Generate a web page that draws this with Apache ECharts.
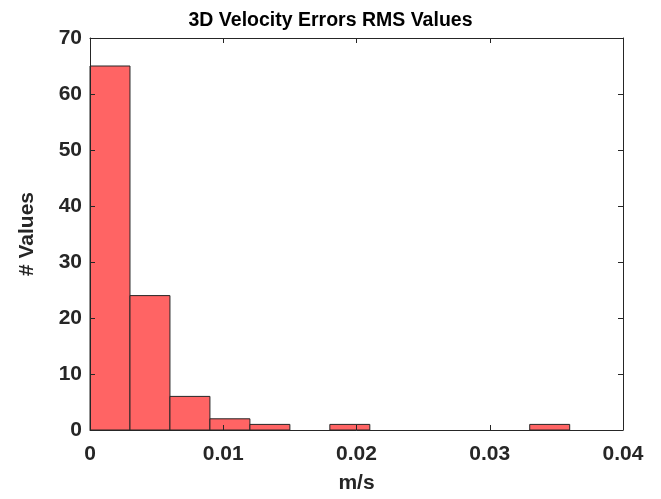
<!DOCTYPE html>
<html><head><meta charset="utf-8">
<script src="https://cdn.jsdelivr.net/npm/echarts@6/dist/echarts.min.js"></script>
<style>html,body{margin:0;padding:0;background:#fff}#c{width:661px;height:499px}</style>
</head><body><div id="c"></div>
<script>
// Histogram bins (width 0.003 m/s) and counts
const binStarts = [0, 0.003, 0.006, 0.009, 0.012, 0.015, 0.018, 0.021, 0.024, 0.027, 0.030, 0.033];
const binWidth = 0.003;
const counts = [65, 24, 6, 2, 1, 0, 1, 0, 0, 0, 0, 1];
const xTicks = [0, 0.01, 0.02, 0.03, 0.04];
const yTicks = [0, 10, 20, 30, 40, 50, 60, 70];
const title = '3D Velocity Errors RMS Values';
const xLabel = 'm/s';
const yLabel = '# Values';

const FONT = '"Liberation Sans", Arial, Helvetica, sans-serif';
const data = binStarts.map((s, i) => [s, s + binWidth, counts[i]]).filter(d => d[2] > 0);

const chart = echarts.init(document.getElementById('c'), null, {renderer: 'canvas'});
const axisLine = {show: true, onZero: false, lineStyle: {color: '#262626', width: 1}};
const tick = {show: true, inside: true, length: 5, lineStyle: {color: '#262626', width: 1}};
const lbl = {color: '#262626', fontFamily: FONT, fontWeight: 'bold', fontSize: 21};
const xMin = xTicks[0], xMax = xTicks[xTicks.length - 1], xInt = xTicks[1] - xTicks[0];
const yMin = yTicks[0], yMax = yTicks[yTicks.length - 1], yInt = yTicks[1] - yTicks[0];
chart.setOption({
  animation: false,
  title: {text: title, left: 'center', top: 6, textStyle: {fontFamily: FONT, fontWeight: 'bold', fontSize: 19.5, color: '#000'}},
  grid: {left: 90, right: 38, top: 38, bottom: 67, containLabel: false},
  xAxis: [
    {type: 'value', min: xMin, max: xMax, interval: xInt, position: 'bottom', z: 5,
     name: xLabel, nameLocation: 'middle', nameGap: 43,
     nameTextStyle: {fontFamily: FONT, fontWeight: 'bold', fontSize: 21, color: '#262626'},
     axisLine, axisTick: tick, splitLine: {show: false},
     axisLabel: Object.assign({margin: 14, formatter: v => v === 0 ? '0' : String(+v.toFixed(2))}, lbl)},
    {type: 'value', min: xMin, max: xMax, interval: xInt, position: 'top', z: 5,
     axisLine, axisTick: tick, axisLabel: {show: false}, splitLine: {show: false}}
  ],
  yAxis: [
    {type: 'value', min: yMin, max: yMax, interval: yInt, position: 'left', z: 5,
     name: yLabel, nameLocation: 'middle', nameGap: 52, nameRotate: 90,
     nameTextStyle: {fontFamily: FONT, fontWeight: 'bold', fontSize: 21, color: '#262626'},
     axisLine, axisTick: tick, splitLine: {show: false},
     axisLabel: Object.assign({margin: 8}, lbl)},
    {type: 'value', min: yMin, max: yMax, interval: yInt, position: 'right', z: 5,
     axisLine, axisTick: tick, axisLabel: {show: false}, splitLine: {show: false}}
  ],
  series: [{
    type: 'custom',
    xAxisIndex: 0, yAxisIndex: 0, z: 2,
    data: data,
    encode: {x: [0, 1], y: 2},
    renderItem: function (params, api) {
      const p0 = api.coord([api.value(0), 0]);
      const p1 = api.coord([api.value(1), api.value(2)]);
      return {
        type: 'rect',
        shape: {x: p0[0], y: p1[1], width: p1[0] - p0[0], height: p0[1] - p1[1]},
        style: {fill: '#FF6464', stroke: '#262626', lineWidth: 1}
      };
    }
  }]
});
</script></body></html>
